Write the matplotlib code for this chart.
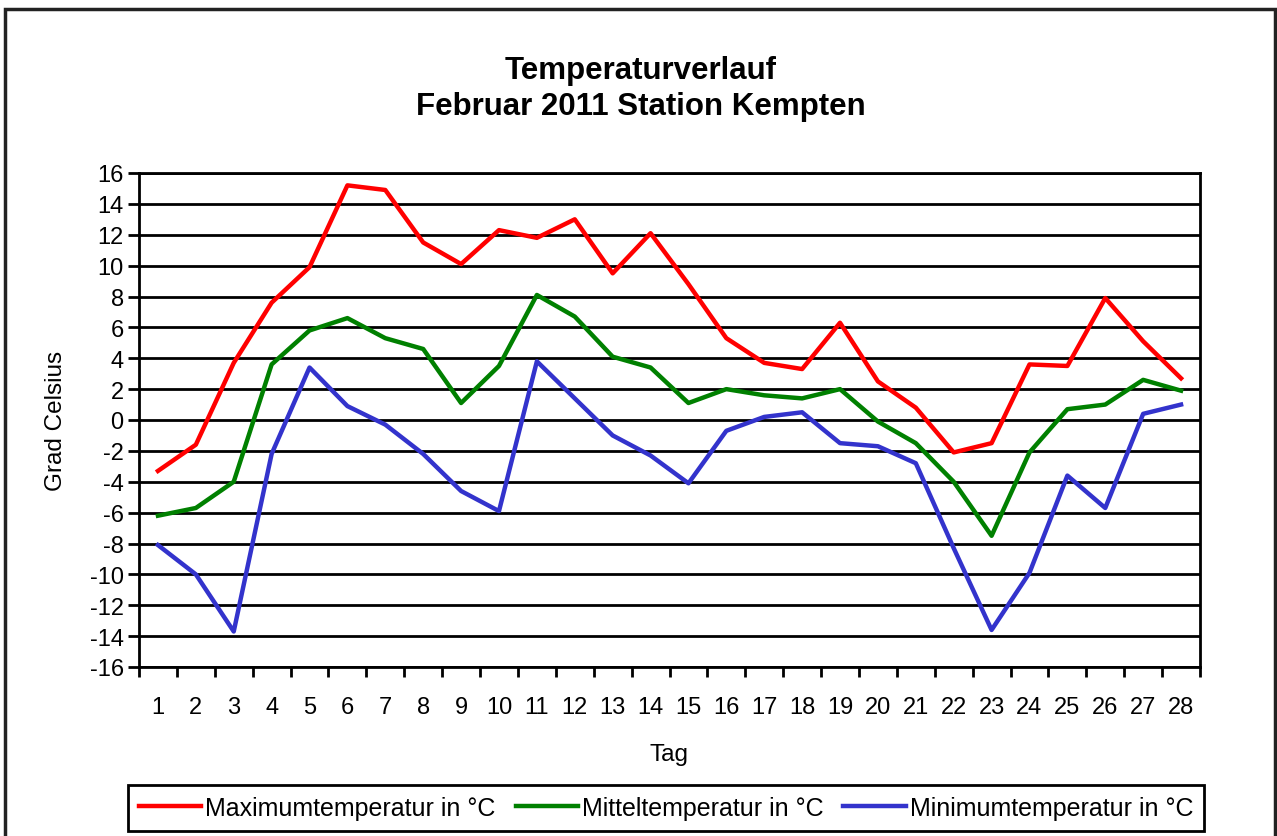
import matplotlib
matplotlib.use("Agg")
import matplotlib.pyplot as plt
from matplotlib.patches import Rectangle

plt.rcParams['font.family'] = ['Liberation Sans', 'DejaVu Sans']

days = list(range(1, 29))
day_labels = [str(d) for d in days]
t_max = [-3.3, -1.6, 3.7, 7.6, 9.9, 15.2, 14.9, 11.5, 10.1, 12.3,
         11.8, 13.0, 9.5, 12.1, 8.8, 5.3, 3.7, 3.3, 6.3, 2.5,
         0.8, -2.1, -1.5, 3.6, 3.5, 7.9, 5.1, 2.7]
t_mean = [-6.2, -5.7, -4.0, 3.6, 5.8, 6.6, 5.3, 4.6, 1.1, 3.5,
          8.1, 6.7, 4.1, 3.4, 1.1, 2.0, 1.6, 1.4, 2.0, -0.1,
          -1.5, -4.0, -7.5, -2.1, 0.7, 1.0, 2.6, 1.9]
t_min = [-8.1, -10.0, -13.7, -2.2, 3.4, 0.9, -0.3, -2.2, -4.6, -5.9,
         3.8, 1.4, -1.0, -2.3, -4.1, -0.7, 0.2, 0.5, -1.5, -1.7,
         -2.8, -8.3, -13.6, -9.9, -3.6, -5.7, 0.4, 1.0]
y_ticks = list(range(-16, 17, 2))

fig = plt.figure(figsize=(12.77, 8.37), dpi=100)
ax = fig.add_axes([139/1277, 1-668/837, (1200-139)/1277, (668-174)/837])

for y in y_ticks:
    ax.axhline(y, color='black', lw=2.0, zorder=1)

ax.plot(days, t_max, color='#ff0000', lw=3.2, zorder=3, label='Maximumtemperatur in °C')
ax.plot(days, t_mean, color='#008000', lw=3.2, zorder=3, label='Mitteltemperatur in °C')
ax.plot(days, t_min, color='#3333cc', lw=3.2, zorder=3, label='Minimumtemperatur in °C')

ax.set_xlim(0.5, 28.5)
ax.set_ylim(-16, 16)
ax.set_yticks(y_ticks)
ax.set_yticklabels([str(v) for v in y_ticks], fontsize=17)
ax.set_xticks([d + 0.5 for d in range(0, 29)])
ax.set_xticklabels([])
ax.set_xticks(days, minor=True)
ax.set_xticklabels(day_labels, minor=True, fontsize=17)
ax.tick_params(axis='x', which='minor', length=0, pad=21)
ax.tick_params(axis='x', which='major', length=7, width=2, direction='out')
ax.tick_params(axis='y', length=8, width=2, direction='out', pad=3)
for s in ax.spines.values():
    s.set_linewidth(2)
    s.set_color('black')

ax.set_ylabel('Grad Celsius', fontsize=17.5, labelpad=16)
ax.set_xlabel('Tag', fontsize=17.5, labelpad=18)

fig.text(0.502, 1-89/837, 'Temperaturverlauf\nFebruar 2011 Station Kempten',
         ha='center', va='center', fontsize=22.5, fontweight='bold', linespacing=1.3)

leg = fig.legend(loc='center', bbox_to_anchor=(666/1277, 1-809/837), ncol=3,
                 fontsize=18, frameon=True, fancybox=False, handlelength=2.5,
                 handletextpad=0.15, columnspacing=0.8, borderpad=0.45,
                 borderaxespad=0, edgecolor='black', framealpha=1)
leg.get_frame().set_linewidth(2)

fig.patches.append(Rectangle((5/1277, -0.05), (1275-5)/1277, 1.05-10/837,
                             transform=fig.transFigure, fill=False,
                             edgecolor='#222222', lw=2.5))

fig.savefig('out.png', dpi=100)
